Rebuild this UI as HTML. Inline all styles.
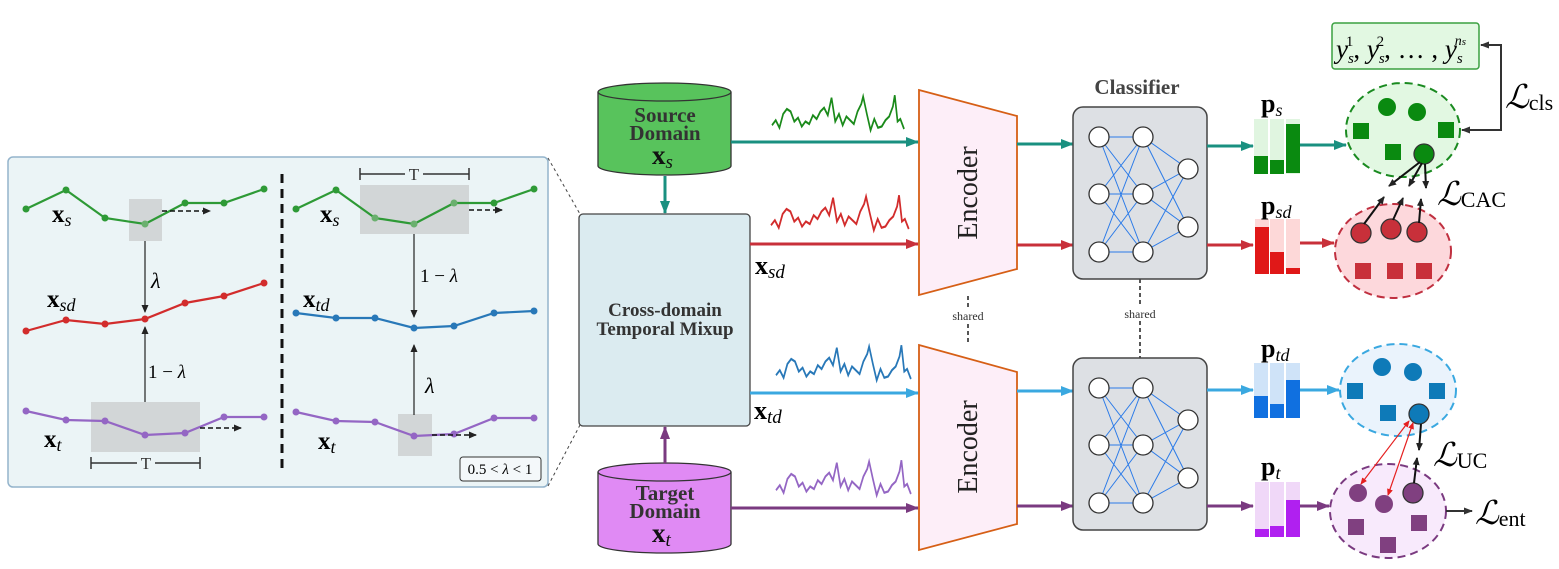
<!DOCTYPE html>
<html><head><meta charset="utf-8"><style>
html,body{margin:0;padding:0;background:#fff;}
svg{display:block;}
.s{font-family:"Liberation Serif","DejaVu Serif",serif;}
</style></head><body>
<svg width="1559" height="569" viewBox="0 0 1559 569" xmlns="http://www.w3.org/2000/svg" class="s">
<defs>
<marker id="ak" markerWidth="8" markerHeight="8" refX="7" refY="4" orient="auto" markerUnits="userSpaceOnUse"><path d="M0,0.5 L8,4 L0,7.5 z" fill="#222"/></marker>
<marker id="ar" markerWidth="7" markerHeight="7" refX="6" refY="3.5" orient="auto-start-reverse" markerUnits="userSpaceOnUse"><path d="M0,0.5 L7,3.5 L0,6.5 z" fill="#e52020"/></marker>
<marker id="ag" markerWidth="13" markerHeight="10" refX="12" refY="5" orient="auto" markerUnits="userSpaceOnUse"><path d="M0,0 L13,5 L0,10 z" fill="#1a9080"/></marker>
<marker id="are" markerWidth="13" markerHeight="10" refX="12" refY="5" orient="auto" markerUnits="userSpaceOnUse"><path d="M0,0 L13,5 L0,10 z" fill="#c8303a"/></marker>
<marker id="ab" markerWidth="13" markerHeight="10" refX="12" refY="5" orient="auto" markerUnits="userSpaceOnUse"><path d="M0,0 L13,5 L0,10 z" fill="#3aa8e0"/></marker>
<marker id="ap" markerWidth="13" markerHeight="10" refX="12" refY="5" orient="auto" markerUnits="userSpaceOnUse"><path d="M0,0 L13,5 L0,10 z" fill="#7a3a80"/></marker>
<marker id="ad" markerWidth="9" markerHeight="8" refX="8" refY="4" orient="auto-start-reverse" markerUnits="userSpaceOnUse"><path d="M0,0.5 L9,4 L0,7.5 z" fill="#333"/></marker>
<polyline id="sig" points="0,25 4,21 8,27 12,16 16,12 20,14 24,22 28,19 32,26 36,22 40,24 44,17 48,20 52,14 56,11 60,17 64,3 68,22 72,16 76,25 80,18 84,21 88,24 92,14 96,8 98,2 102,16 106,29 110,20 114,27 118,26 122,21 126,18 130,10 132,1 135,22 138,20 142,28"/>
</defs>

<!-- LEFT PANEL -->
<rect x="8" y="157" width="540" height="330" rx="5" fill="#ebf4f6" stroke="#94b4cc" stroke-width="1.5"/>
<line x1="282" y1="174" x2="282" y2="472" stroke="#111" stroke-width="3" stroke-dasharray="9,6"/>
<line x1="548" y1="158" x2="580" y2="214" stroke="#444" stroke-dasharray="3,3"/>
<line x1="548" y1="486" x2="580" y2="425" stroke="#444" stroke-dasharray="3,3"/>

<rect x="129" y="199" width="33" height="42" fill="#cfd3d4" opacity="0.9"/>
<rect x="91" y="402" width="109" height="50" fill="#cfd3d4" opacity="0.9"/>
<g fill="none" stroke-width="2.2">
<polyline points="26,209 66,190 105,218 145,224 185,203 224,203 264,189" stroke="#2e9a36"/>
<polyline points="26,331 66,320 105,324 145,319 185,303 224,296 264,283" stroke="#d22c2c"/>
<polyline points="26,411 66,420 105,421 145,435 185,433 224,417 264,417" stroke="#9466c4"/>
</g>
<g fill="#2e9a36"><circle cx="26" cy="209" r="3.5"/><circle cx="66" cy="190" r="3.5"/><circle cx="105" cy="218" r="3.5"/><circle cx="145" cy="224" r="3.5" fill="#6ab06e"/><circle cx="185" cy="203" r="3.5"/><circle cx="224" cy="203" r="3.5"/><circle cx="264" cy="189" r="3.5"/></g>
<g fill="#d22c2c"><circle cx="26" cy="331" r="3.5"/><circle cx="66" cy="320" r="3.5"/><circle cx="105" cy="324" r="3.5"/><circle cx="145" cy="319" r="3.5"/><circle cx="185" cy="303" r="3.5"/><circle cx="224" cy="296" r="3.5"/><circle cx="264" cy="283" r="3.5"/></g>
<g fill="#9466c4"><circle cx="26" cy="411" r="3.5"/><circle cx="66" cy="420" r="3.5"/><circle cx="105" cy="421" r="3.5"/><circle cx="145" cy="435" r="3.5"/><circle cx="185" cy="433" r="3.5"/><circle cx="224" cy="417" r="3.5"/><circle cx="264" cy="417" r="3.5"/></g>
<line x1="162" y1="211" x2="210" y2="211" stroke="#111" stroke-width="1.5" stroke-dasharray="5,3" marker-end="url(#ak)"/>
<line x1="200" y1="428" x2="241" y2="428" stroke="#111" stroke-width="1.5" stroke-dasharray="5,3" marker-end="url(#ak)"/>
<line x1="145" y1="241" x2="145" y2="312" stroke="#222" stroke-width="1.2" marker-end="url(#ak)"/>
<line x1="145" y1="402" x2="145" y2="327" stroke="#222" stroke-width="1.2" marker-end="url(#ak)"/>
<text x="151" y="288" font-size="22" font-style="italic">λ</text>
<text x="148" y="378" font-size="19">1 − <tspan font-style="italic">λ</tspan></text>
<text x="52" y="222" font-size="25" font-weight="bold">x<tspan font-size="18" font-weight="normal" font-style="italic" dy="4">s</tspan></text>
<text x="47" y="307" font-size="25" font-weight="bold">x<tspan font-size="18" font-weight="normal" font-style="italic" dy="4">sd</tspan></text>
<text x="44" y="447" font-size="25" font-weight="bold">x<tspan font-size="18" font-weight="normal" font-style="italic" dy="4">t</tspan></text>
<g stroke="#333" stroke-width="1.5"><line x1="91" y1="463" x2="200" y2="463"/><line x1="91" y1="457" x2="91" y2="469"/><line x1="200" y1="457" x2="200" y2="469"/></g>
<rect x="137" y="455" width="18" height="14" fill="#ebf4f6"/><text x="146" y="469" font-size="17" text-anchor="middle" fill="#333">T</text>

<rect x="360" y="185" width="109" height="49" fill="#cfd3d4" opacity="0.9"/>
<rect x="398" y="414" width="34" height="42" fill="#cfd3d4" opacity="0.9"/>
<g fill="none" stroke-width="2.2">
<polyline points="296,209 336,190 375,218 414,224 454,203 494,203 534,189" stroke="#2e9a36"/>
<polyline points="296,313 336,318 375,318 414,328 454,326 494,313 534,311" stroke="#2878b8"/>
<polyline points="296,412 336,421 375,422 414,436 454,434 494,418 534,418" stroke="#9466c4"/>
</g>
<g fill="#2e9a36"><circle cx="296" cy="209" r="3.5"/><circle cx="336" cy="190" r="3.5"/><circle cx="375" cy="218" r="3.5" fill="#6ab06e"/><circle cx="414" cy="224" r="3.5" fill="#6ab06e"/><circle cx="454" cy="203" r="3.5" fill="#6ab06e"/><circle cx="494" cy="203" r="3.5"/><circle cx="534" cy="189" r="3.5"/></g>
<g fill="#2878b8"><circle cx="296" cy="313" r="3.5"/><circle cx="336" cy="318" r="3.5"/><circle cx="375" cy="318" r="3.5"/><circle cx="414" cy="328" r="3.5"/><circle cx="454" cy="326" r="3.5"/><circle cx="494" cy="313" r="3.5"/><circle cx="534" cy="311" r="3.5"/></g>
<g fill="#9466c4"><circle cx="296" cy="412" r="3.5"/><circle cx="336" cy="421" r="3.5"/><circle cx="375" cy="422" r="3.5"/><circle cx="414" cy="436" r="3.5"/><circle cx="454" cy="434" r="3.5"/><circle cx="494" cy="418" r="3.5"/><circle cx="534" cy="418" r="3.5"/></g>
<line x1="469" y1="210" x2="502" y2="210" stroke="#111" stroke-width="1.5" stroke-dasharray="5,3" marker-end="url(#ak)"/>
<line x1="432" y1="435" x2="476" y2="435" stroke="#111" stroke-width="1.5" stroke-dasharray="5,3" marker-end="url(#ak)"/>
<line x1="414" y1="234" x2="414" y2="317" stroke="#222" stroke-width="1.2" marker-end="url(#ak)"/>
<line x1="414" y1="415" x2="414" y2="345" stroke="#222" stroke-width="1.2" marker-end="url(#ak)"/>
<text x="420" y="282" font-size="19">1 − <tspan font-style="italic">λ</tspan></text>
<text x="425" y="393" font-size="22" font-style="italic">λ</text>
<g stroke="#333" stroke-width="1.5"><line x1="360" y1="174" x2="469" y2="174"/><line x1="360" y1="168" x2="360" y2="180"/><line x1="469" y1="168" x2="469" y2="180"/></g>
<rect x="405" y="166" width="18" height="14" fill="#ebf4f6"/><text x="414" y="180" font-size="17" text-anchor="middle" fill="#333">T</text>
<text x="320" y="222" font-size="25" font-weight="bold">x<tspan font-size="18" font-weight="normal" font-style="italic" dy="4">s</tspan></text>
<text x="303" y="307" font-size="25" font-weight="bold">x<tspan font-size="18" font-weight="normal" font-style="italic" dy="4">td</tspan></text>
<text x="318" y="449" font-size="25" font-weight="bold">x<tspan font-size="18" font-weight="normal" font-style="italic" dy="4">t</tspan></text>
<rect x="460" y="457" width="81" height="24" rx="3" fill="#f4f8fa" stroke="#333"/>
<text x="500" y="474" font-size="15" text-anchor="middle">0.5 &lt; <tspan font-style="italic">λ</tspan> &lt; 1</text>

<!-- CROSS DOMAIN -->
<rect x="579" y="214" width="171" height="212" rx="4" fill="#dbebf0" stroke="#444" stroke-width="1.3"/>
<text x="665" y="316" font-size="19" font-weight="bold" fill="#333" text-anchor="middle">Cross-domain</text>
<text x="665" y="335" font-size="19" font-weight="bold" fill="#333" text-anchor="middle">Temporal Mixup</text>

<path d="M598,92 L598,166 A66.5,9 0 0 0 731,166 L731,92" fill="#58c35c" stroke="#333" stroke-width="1.3"/>
<ellipse cx="664.5" cy="92" rx="66.5" ry="9" fill="#58c35c" stroke="#333" stroke-width="1.3"/>
<text x="665" y="122" font-size="21" font-weight="bold" fill="#333" text-anchor="middle">Source</text>
<text x="665" y="140" font-size="21" font-weight="bold" fill="#333" text-anchor="middle">Domain</text>
<text x="652" y="164" font-size="27" font-weight="bold" fill="#111">x<tspan font-size="19" font-weight="normal" font-style="italic" dy="4">s</tspan></text>

<path d="M598,472 L598,544 A66.5,9 0 0 0 731,544 L731,472" fill="#e08af4" stroke="#333" stroke-width="1.3"/>
<ellipse cx="664.5" cy="472" rx="66.5" ry="9" fill="#e08af4" stroke="#333" stroke-width="1.3"/>
<text x="665" y="500" font-size="21" font-weight="bold" fill="#333" text-anchor="middle">Target</text>
<text x="665" y="518" font-size="21" font-weight="bold" fill="#333" text-anchor="middle">Domain</text>
<text x="652" y="542" font-size="27" font-weight="bold" fill="#111">x<tspan font-size="19" font-weight="normal" font-style="italic" dy="4">t</tspan></text>

<line x1="665" y1="176" x2="665" y2="213" stroke="#1a9080" stroke-width="3" marker-end="url(#ag)"/>
<line x1="665" y1="463" x2="665" y2="427" stroke="#7a3a80" stroke-width="3" marker-end="url(#ap)"/>

<line x1="731" y1="142" x2="918" y2="142" stroke="#1a9080" stroke-width="3" marker-end="url(#ag)"/>
<line x1="750" y1="244" x2="918" y2="244" stroke="#c8303a" stroke-width="3" marker-end="url(#are)"/>
<line x1="750" y1="393" x2="918" y2="393" stroke="#3aa8e0" stroke-width="3" marker-end="url(#ab)"/>
<line x1="731" y1="508" x2="918" y2="508" stroke="#7a3a80" stroke-width="3" marker-end="url(#ap)"/>
<text x="755" y="274" font-size="26" font-weight="bold">x<tspan font-size="19" font-weight="normal" font-style="italic" dy="4">sd</tspan></text>
<text x="754" y="419" font-size="26" font-weight="bold">x<tspan font-size="19" font-weight="normal" font-style="italic" dy="4">td</tspan></text>

<use href="#sig" transform="translate(772,94) scale(0.93,1.25)" fill="none" stroke="#1a8a1a" stroke-width="1.8"/>
<use href="#sig" transform="translate(771,194) scale(0.97,1.25)" fill="none" stroke="#d22c2c" stroke-width="1.8"/>
<use href="#sig" transform="translate(776,344) scale(0.95,1.25) " fill="none" stroke="#2878b8" stroke-width="1.8"/>
<use href="#sig" transform="translate(776,459) scale(0.95,1.25)" fill="none" stroke="#9466c4" stroke-width="1.8"/>

<polygon points="919,90 1017,116 1017,269 919,295" fill="#fdeef8" stroke="#d65f16" stroke-width="1.8"/>
<polygon points="919,345 1017,372 1017,524 919,550" fill="#fdeef8" stroke="#d65f16" stroke-width="1.8"/>
<text transform="translate(977,193) rotate(-90)" font-size="28" text-anchor="middle" fill="#222">Encoder</text>
<text transform="translate(977,447) rotate(-90)" font-size="28" text-anchor="middle" fill="#222">Encoder</text>
<line x1="968" y1="296" x2="968" y2="345" stroke="#444" stroke-width="1.8" stroke-dasharray="4,3"/>
<rect x="943" y="309" width="50" height="14" fill="#fff"/>
<text x="968" y="320" font-size="12" text-anchor="middle" fill="#333">shared</text>

<line x1="1017" y1="144" x2="1073" y2="144" stroke="#1a9080" stroke-width="3" marker-end="url(#ag)"/>
<line x1="1017" y1="245" x2="1073" y2="245" stroke="#c8303a" stroke-width="3" marker-end="url(#are)"/>
<line x1="1017" y1="391" x2="1073" y2="391" stroke="#3aa8e0" stroke-width="3" marker-end="url(#ab)"/>
<line x1="1017" y1="506" x2="1073" y2="506" stroke="#7a3a80" stroke-width="3" marker-end="url(#ap)"/>

<text x="1137" y="94" font-size="21" font-weight="bold" fill="#444" text-anchor="middle">Classifier</text>
<line x1="1140" y1="279" x2="1140" y2="358" stroke="#444" stroke-width="1.8" stroke-dasharray="4,3"/>
<rect x="1115" y="307" width="50" height="14" fill="#fff"/>
<text x="1140" y="318" font-size="12" text-anchor="middle" fill="#333">shared</text>
<g id="cls">
<rect x="1073" y="107" width="134" height="172" rx="10" fill="#dde0e4" stroke="#444" stroke-width="1.5"/>
<g stroke="#2a7ae8" stroke-width="1">
<path d="M1099,137 L1143,137 M1099,137 L1143,194 M1099,137 L1143,252 M1099,194 L1143,137 M1099,194 L1143,194 M1099,194 L1143,252 M1099,252 L1143,137 M1099,252 L1143,194 M1099,252 L1143,252 M1143,137 L1188,169 M1143,137 L1188,227 M1143,194 L1188,169 M1143,194 L1188,227 M1143,252 L1188,169 M1143,252 L1188,227"/>
</g>
<g fill="#fff" stroke="#333" stroke-width="1.3">
<circle cx="1099" cy="137" r="10"/><circle cx="1099" cy="194" r="10"/><circle cx="1099" cy="252" r="10"/>
<circle cx="1143" cy="137" r="10"/><circle cx="1143" cy="194" r="10"/><circle cx="1143" cy="252" r="10"/>
<circle cx="1188" cy="169" r="10"/><circle cx="1188" cy="227" r="10"/>
</g>
</g>
<use href="#cls" transform="translate(0,251)"/>

<line x1="1207" y1="146" x2="1253" y2="146" stroke="#1a9080" stroke-width="3" marker-end="url(#ag)"/>
<line x1="1207" y1="245" x2="1253" y2="245" stroke="#c8303a" stroke-width="3" marker-end="url(#are)"/>
<line x1="1207" y1="390" x2="1253" y2="390" stroke="#3aa8e0" stroke-width="3" marker-end="url(#ab)"/>
<line x1="1207" y1="506" x2="1253" y2="506" stroke="#7a3a80" stroke-width="3" marker-end="url(#ap)"/>

<g>
<rect x="1254" y="119" width="14" height="55" fill="#e0f5e0"/><rect x="1270" y="119" width="14" height="55" fill="#e0f5e0"/><rect x="1286" y="119" width="14" height="55" fill="#e0f5e0"/>
<rect x="1254" y="156" width="14" height="18" fill="#0a8a10"/><rect x="1270" y="160" width="14" height="14" fill="#0a8a10"/><rect x="1286" y="124" width="14" height="49" fill="#0a8a10"/>
<rect x="1255" y="219" width="14" height="55" fill="#fdd8d8"/><rect x="1270" y="219" width="14" height="55" fill="#fdd8d8"/><rect x="1286" y="219" width="14" height="55" fill="#fdd8d8"/>
<rect x="1255" y="227" width="14" height="47" fill="#e01818"/><rect x="1270" y="252" width="14" height="22" fill="#e01818"/><rect x="1286" y="268" width="14" height="6" fill="#e01818"/>
<rect x="1254" y="363" width="14" height="55" fill="#cfe3f8"/><rect x="1270" y="363" width="14" height="55" fill="#cfe3f8"/><rect x="1286" y="363" width="14" height="55" fill="#cfe3f8"/>
<rect x="1254" y="396" width="14" height="22" fill="#1070e0"/><rect x="1270" y="404" width="14" height="14" fill="#1070e0"/><rect x="1286" y="380" width="14" height="38" fill="#1070e0"/>
<rect x="1255" y="482" width="14" height="55" fill="#f0d8f8"/><rect x="1270" y="482" width="14" height="55" fill="#f0d8f8"/><rect x="1286" y="482" width="14" height="55" fill="#f0d8f8"/>
<rect x="1255" y="529" width="14" height="8" fill="#b020f0"/><rect x="1270" y="526" width="14" height="11" fill="#b020f0"/><rect x="1286" y="500" width="14" height="37" fill="#b020f0"/>
</g>
<text x="1261" y="112" font-size="26" font-weight="bold">p<tspan font-size="18" font-weight="normal" font-style="italic" dy="4">s</tspan></text>
<text x="1261" y="214" font-size="26" font-weight="bold">p<tspan font-size="18" font-weight="normal" font-style="italic" dy="4">sd</tspan></text>
<text x="1261" y="357" font-size="26" font-weight="bold">p<tspan font-size="18" font-weight="normal" font-style="italic" dy="4">td</tspan></text>
<text x="1261" y="475" font-size="26" font-weight="bold">p<tspan font-size="18" font-weight="normal" font-style="italic" dy="4">t</tspan></text>

<line x1="1300" y1="145" x2="1346" y2="145" stroke="#1a9080" stroke-width="3" marker-end="url(#ag)"/>
<line x1="1300" y1="243" x2="1334" y2="243" stroke="#c8303a" stroke-width="3" marker-end="url(#are)"/>
<line x1="1300" y1="390" x2="1339" y2="390" stroke="#3aa8e0" stroke-width="3" marker-end="url(#ab)"/>
<line x1="1300" y1="506" x2="1329" y2="506" stroke="#7a3a80" stroke-width="3" marker-end="url(#ap)"/>

<ellipse cx="1403" cy="130" rx="57" ry="47" fill="#e2f8e2" stroke="#1a8a20" stroke-width="2" stroke-dasharray="8,5"/>
<g fill="#0a8a10"><circle cx="1387" cy="107" r="9"/><circle cx="1417" cy="112" r="9"/><rect x="1353" y="123" width="16" height="16"/><rect x="1438" y="122" width="16" height="16"/><rect x="1385" y="144" width="16" height="16"/></g>
<circle cx="1424" cy="154" r="10" fill="#0a8a10" stroke="#333" stroke-width="1.3"/>

<ellipse cx="1393" cy="251" rx="58" ry="47" fill="#fdd8dc" stroke="#c03040" stroke-width="2" stroke-dasharray="8,5"/>
<g fill="#c8303a"><rect x="1355" y="263" width="16" height="16"/><rect x="1387" y="263" width="16" height="16"/><rect x="1416" y="263" width="16" height="16"/></g>
<g fill="#c8303a" stroke="#333" stroke-width="1.3"><circle cx="1361" cy="233" r="10"/><circle cx="1391" cy="229" r="10"/><circle cx="1417" cy="232" r="10"/></g>

<g stroke="#111" stroke-width="2">
<line x1="1420" y1="162" x2="1389" y2="186" marker-end="url(#ak)"/>
<line x1="1422" y1="163" x2="1409" y2="186" marker-end="url(#ak)"/>
<line x1="1425" y1="164" x2="1426" y2="188" marker-end="url(#ak)"/>
<line x1="1364" y1="224" x2="1384" y2="197" marker-end="url(#ak)"/>
<line x1="1393" y1="220" x2="1403" y2="198" marker-end="url(#ak)"/>
<line x1="1419" y1="223" x2="1421" y2="199" marker-end="url(#ak)"/>
</g>
<text x="1437" y="205" font-size="33" font-style="italic" font-family="DejaVu Serif, serif">ℒ<tspan font-size="22" font-style="normal" font-family="Liberation Serif, serif" dy="2">CAC</tspan></text>

<rect x="1332" y="23" width="147" height="46" rx="3" fill="#e2f8e2" stroke="#3aa040" stroke-width="1.5"/>
<text x="1336" y="58" font-size="27" font-style="italic">y<tspan font-size="15" dy="5">s</tspan><tspan font-size="15" dx="-8" dy="-17" font-style="normal">1</tspan><tspan dy="12" font-style="normal">, </tspan>y<tspan font-size="15" dy="5">s</tspan><tspan font-size="15" dx="-8" dy="-17" font-style="normal">2</tspan><tspan dy="12" font-style="normal">, … , </tspan>y<tspan font-size="15" dy="5">s</tspan><tspan font-size="14" dx="-8" dy="-18">n<tspan font-size="11">s</tspan></tspan></text>
<path d="M1462,130 L1501,130 L1501,45 L1481,45" fill="none" stroke="#333" stroke-width="2" marker-start="url(#ad)" marker-end="url(#ad)"/>
<text x="1505" y="108" font-size="33" font-style="italic" font-family="DejaVu Serif, serif">ℒ<tspan font-size="22" font-style="normal" font-family="Liberation Serif, serif" dy="2">cls</tspan></text>

<ellipse cx="1398" cy="390" rx="58" ry="46" fill="#eaf3fc" stroke="#3aa8e0" stroke-width="2" stroke-dasharray="8,5"/>
<g fill="#0e7ab8"><circle cx="1382" cy="367" r="9"/><circle cx="1413" cy="372" r="9"/><rect x="1347" y="383" width="16" height="16"/><rect x="1429" y="383" width="16" height="16"/><rect x="1380" y="405" width="16" height="16"/></g>
<circle cx="1419" cy="414" r="10" fill="#0e7ab8" stroke="#333" stroke-width="1.3"/>

<ellipse cx="1388" cy="511" rx="58" ry="47" fill="#f8eafc" stroke="#7a3a80" stroke-width="2" stroke-dasharray="8,5"/>
<g fill="#804080"><circle cx="1358" cy="493" r="9"/><circle cx="1384" cy="504" r="9"/><rect x="1348" y="519" width="16" height="16"/><rect x="1380" y="537" width="16" height="16"/><rect x="1411" y="515" width="16" height="16"/></g>
<circle cx="1413" cy="493" r="10" fill="#804080" stroke="#333" stroke-width="1.3"/>

<line x1="1409" y1="421" x2="1361" y2="484" stroke="#e52020" stroke-width="1.2" marker-start="url(#ar)" marker-end="url(#ar)"/>
<line x1="1413" y1="423" x2="1388" y2="495" stroke="#e52020" stroke-width="1.2" marker-start="url(#ar)" marker-end="url(#ar)"/>
<g stroke="#111" stroke-width="2">
<line x1="1421" y1="424" x2="1419" y2="450" marker-end="url(#ak)"/>
<line x1="1414" y1="483" x2="1417" y2="458" marker-end="url(#ak)"/>
</g>
<text x="1433" y="466" font-size="33" font-style="italic" font-family="DejaVu Serif, serif">ℒ<tspan font-size="22" font-style="normal" font-family="Liberation Serif, serif" dy="2">UC</tspan></text>
<line x1="1446" y1="511" x2="1472" y2="511" stroke="#333" stroke-width="2" marker-end="url(#ad)"/>
<text x="1475" y="524" font-size="33" font-style="italic" font-family="DejaVu Serif, serif">ℒ<tspan font-size="22" font-style="normal" font-family="Liberation Serif, serif" dy="2">ent</tspan></text>
</svg>
</body></html>
